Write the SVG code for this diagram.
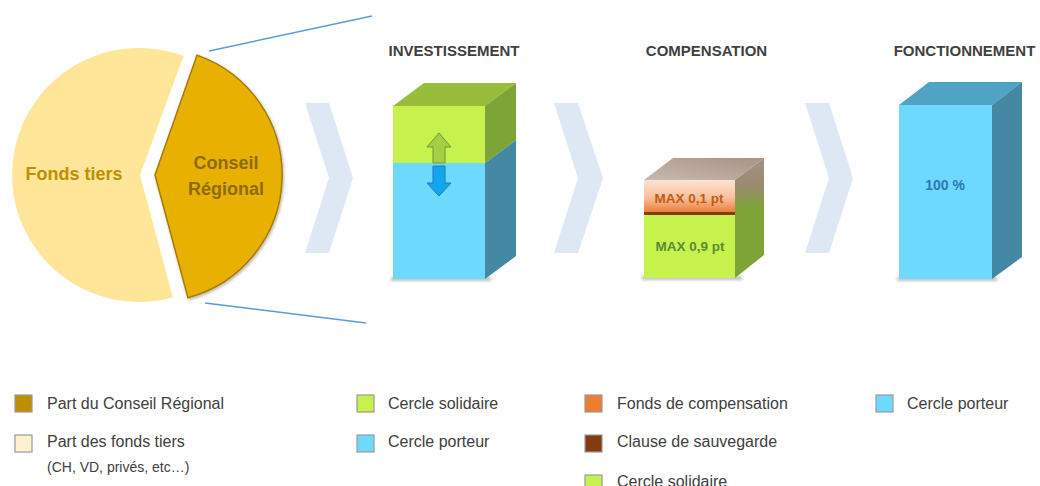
<svg xmlns="http://www.w3.org/2000/svg" width="1040" height="486" viewBox="0 0 1040 486">
<defs>
<style>
.hdr{font-family:"Liberation Sans",Arial,sans-serif;font-weight:bold;font-size:15px;fill:#404040;text-anchor:middle}
.lg{font-family:"Liberation Sans",Arial,sans-serif;font-size:16px;fill:#404040}
.sw{stroke:#9a9a9a;stroke-width:1.2}
.chev{fill:#DDE8F4}
.zoomline{stroke:#5B9BD5;stroke-width:1.5;fill:none}
.shadow{fill:#bfbfbf;filter:url(#blur)}
</style>
<filter id="blur" x="-20%" y="-200%" width="140%" height="500%"><feGaussianBlur stdDeviation="1.5"/></filter>
<filter id="pieShadow" x="-20%" y="-20%" width="140%" height="140%"><feDropShadow dx="1" dy="1.5" stdDeviation="1.5" flood-color="#000" flood-opacity="0.3"/></filter>
<linearGradient id="peach" x1="0" y1="0" x2="0" y2="1">
<stop offset="0" stop-color="#FCE3D3"/><stop offset="0.55" stop-color="#F8BE9A"/><stop offset="1" stop-color="#EC7A35"/>
</linearGradient>
<linearGradient id="top2" x1="0" y1="1" x2="1" y2="0">
<stop offset="0" stop-color="#C9B9AF"/><stop offset="1" stop-color="#A89385"/>
</linearGradient>
<linearGradient id="side2" x1="0" y1="0" x2="0" y2="1">
<stop offset="0" stop-color="#A39386"/><stop offset="0.22" stop-color="#9C8A70"/><stop offset="0.42" stop-color="#7EA437"/><stop offset="1" stop-color="#7DA436"/>
</linearGradient>
</defs>

<g id="connectors">
<line class="zoomline" x1="209" y1="51" x2="372" y2="16"/>
<line class="zoomline" x1="205" y1="303" x2="366" y2="323"/>
<polygon class="chev" points="305,103 329,103 353,178 329,253 305,253 329,178"/>
<polygon class="chev" points="554,103 578,103 603,178 578,253 554,253 578,178"/>
<polygon class="chev" points="805,103 829,103 853,178 829,253 805,253 829,178"/>
</g>

<g id="pie-fonds-tiers">
<path d="M140,175 L183.5,56 A127,127 0 1 0 172.9,297.4 Z" fill="#FFE699"/>
<text x="74" y="180" font-family="'Liberation Sans',Arial,sans-serif" font-weight="bold" font-size="18" fill="#BF9000" text-anchor="middle">Fonds tiers</text>
</g>

<g id="pie-conseil-regional">
<path d="M155,175 L197,55.1 A127,127 0 0 1 187.9,297.7 Z" fill="#E8B000" stroke="#A47B00" stroke-width="1.5" filter="url(#pieShadow)"/>
<text font-family="'Liberation Sans',Arial,sans-serif" font-weight="bold" font-size="18" fill="#8C6C00" text-anchor="middle"><tspan x="226" y="169">Conseil</tspan><tspan x="226" y="195">Régional</tspan></text>
</g>

<g id="investissement">
<text class="hdr" x="454" y="56">INVESTISSEMENT</text>
<rect class="shadow" x="391" y="277" width="100" height="4"/>
<rect x="393" y="106" width="92" height="57" fill="#C7F24E"/>
<rect x="393" y="163" width="92" height="116" fill="#6DD9FF"/>
<polygon points="393,106 424,83 516,83 485,106" fill="#97BD3B"/>
<polygon points="485,106 516,83 516,140 485,163" fill="#7DA436"/>
<polygon points="485,163 516,140 516,256 485,279" fill="#4588A3"/>
<polygon points="439,133 451,147 445,147 445,163 433,163 433,147 427,147" fill="#A6CF48" stroke="#6B9A2C" stroke-width="1"/>
<polygon points="433,166 445,166 445,183 451,183 439,196 427,183 433,183" fill="#14A6EC" stroke="#1C7AB8" stroke-width="1"/>
</g>

<g id="compensation">
<text class="hdr" x="706.5" y="56">COMPENSATION</text>
<rect class="shadow" x="642" y="276" width="100" height="4"/>
<rect x="644" y="180" width="91" height="33" fill="url(#peach)"/>
<rect x="644" y="212" width="91" height="3" fill="#843C0C"/>
<rect x="644" y="215" width="91" height="63" fill="#C7F24E"/>
<polygon points="644,180 673,158 764,158 735,180" fill="url(#top2)"/>
<polygon points="735,180 764,158 764,255 735,278" fill="url(#side2)"/>
<text x="689" y="203" font-family="'Liberation Sans',Arial,sans-serif" font-weight="bold" font-size="13.5" fill="#C55A11" text-anchor="middle">MAX 0,1 pt</text>
<text x="690" y="251" font-family="'Liberation Sans',Arial,sans-serif" font-weight="bold" font-size="13.5" fill="#5A8A32" text-anchor="middle">MAX 0,9 pt</text>
</g>

<g id="fonctionnement">
<text class="hdr" x="964.5" y="56">FONCTIONNEMENT</text>
<rect class="shadow" x="897" y="277" width="100" height="4"/>
<rect x="899" y="105" width="93" height="174" fill="#6DD9FF"/>
<polygon points="899,105 929,82 1022,82 992,105" fill="#50A3C4"/>
<polygon points="992,105 1022,82 1022,257 992,279" fill="#4588A3"/>
<text x="945" y="190" font-family="'Liberation Sans',Arial,sans-serif" font-weight="bold" font-size="14" fill="#2F75B5" text-anchor="middle">100 %</text>
</g>

<g id="legend">
<rect class="sw" x="15" y="395" width="17" height="17" fill="#BF8F00"/>
<text class="lg" x="47" y="409">Part du Conseil Régional</text>
<rect class="sw" x="15" y="435" width="17" height="17" fill="#FFF2CC"/>
<text class="lg" x="47" y="447">Part des fonds tiers</text>
<text x="47" y="472" font-family="'Liberation Sans',Arial,sans-serif" font-size="14" fill="#404040">(CH, VD, privés, etc…)</text>

<rect class="sw" x="357" y="395" width="17" height="17" fill="#C7F24E"/>
<text class="lg" x="388" y="409">Cercle solidaire</text>
<rect class="sw" x="357" y="435" width="17" height="17" fill="#6DD9FF"/>
<text class="lg" x="388" y="447">Cercle porteur</text>

<rect class="sw" x="585" y="395" width="17" height="17" fill="#ED7D31"/>
<text class="lg" x="617" y="409">Fonds de compensation</text>
<rect class="sw" x="585" y="435" width="17" height="17" fill="#843C0C"/>
<text class="lg" x="617" y="447">Clause de sauvegarde</text>
<rect class="sw" x="585" y="475" width="17" height="17" fill="#C7F24E"/>
<text class="lg" x="617" y="487">Cercle solidaire</text>

<rect class="sw" x="876" y="395" width="17" height="17" fill="#6DD9FF"/>
<text class="lg" x="907" y="409">Cercle porteur</text>
</g>
</svg>
